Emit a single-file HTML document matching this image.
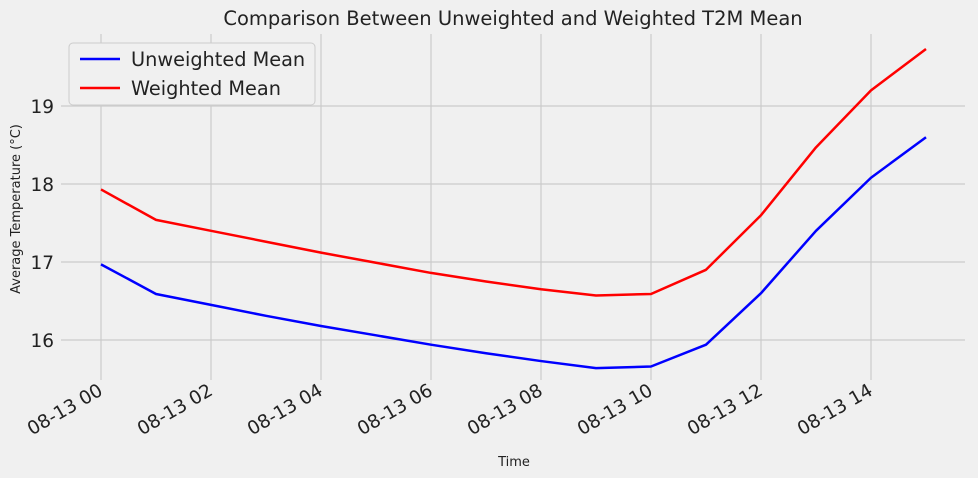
<!DOCTYPE html>
<html><head><meta charset="utf-8"><style>
body{margin:0;background:#f0f0f0;}
svg{display:block;font-family:"DejaVu Sans","Liberation Sans",sans-serif;}
</style></head><body>
<svg id="chart" width="978" height="478" viewBox="0 0 978 478">
<rect width="978" height="478" fill="#f0f0f0"/>
<g id="grid"></g>
<g id="series"></g>
<g id="ticks"></g>
<text x="513" y="25" text-anchor="middle" font-size="19.5" fill="#222">Comparison Between Unweighted and Weighted T2M Mean</text>
<text x="514" y="466" text-anchor="middle" font-size="13" fill="#222">Time</text>
<text transform="translate(20,209) rotate(-90)" text-anchor="middle" font-size="13" fill="#222">Average Temperature (°C)</text>
<g>
<rect x="69" y="43" width="246" height="62" rx="4" fill="#f0f0f0" stroke="#cccccc"/>
<line x1="80" y1="59" x2="120" y2="59" stroke="#0000ff" stroke-width="2.5"/>
<text x="131" y="66" font-size="19.3" fill="#222">Unweighted Mean</text>
<line x1="80" y1="88" x2="120" y2="88" stroke="#ff0000" stroke-width="2.5"/>
<text x="131" y="95" font-size="19.3" fill="#222">Weighted Mean</text>
</g>
</svg>
<script>
const hours=[0,1,2,3,4,5,6,7,8,9,10,11,12,13,14,15];
const unweighted=[16.97,16.59,16.45,16.31,16.18,16.06,15.94,15.83,15.73,15.64,15.66,15.94,16.60,17.40,18.08,18.60];
const weighted=[17.93,17.54,17.40,17.26,17.12,16.99,16.86,16.75,16.65,16.57,16.59,16.90,17.60,18.47,19.20,19.73];
const xTicks=[0,2,4,6,8,10,12,14];
const xTickLabels=["08-13 00","08-13 02","08-13 04","08-13 06","08-13 08","08-13 10","08-13 12","08-13 14"];
const yTicks=[16,17,18,19];
const NS="http://www.w3.org/2000/svg";
const L=61,R=965,T=34,B=380;
const x=h=>101+h*55;
const y=v=>340-(v-16)*78;
function mk(tag,attrs,parent){const e=document.createElementNS(NS,tag);for(const k in attrs)e.setAttribute(k,attrs[k]);parent.appendChild(e);return e;}
const grid=document.getElementById('grid'),ticks=document.getElementById('ticks'),series=document.getElementById('series');
xTicks.forEach((h,i)=>{
  const g=mk('line',{x1:x(h),x2:x(h),y1:T,y2:B,stroke:'#cbcbcb','stroke-width':1.2},grid);
  
  
  const t=mk('text',{transform:`translate(${x(h)+3},${B+14}) rotate(-30)`,'text-anchor':'end','font-size':18.5,fill:'#222'},ticks);
  t.textContent=xTickLabels[i];
  
  
});
yTicks.forEach(v=>{
  const g=mk('line',{x1:L,x2:R,y1:y(v),y2:y(v),stroke:'#cbcbcb','stroke-width':1.2},grid);
  
  
  const t=mk('text',{x:L-7,y:y(v)+7,'text-anchor':'end','font-size':18.5,fill:'#222'},ticks);
  t.textContent=v;
  
  
});
function line(vals,color,name){
  const p=mk('polyline',{points:hours.map((h,i)=>x(h)+','+y(vals[i])).join(' '),fill:'none',stroke:color,'stroke-width':2.5,'stroke-linejoin':'round'},series);
  
  
}
line(unweighted,'#0000ff','unweighted-line');
line(weighted,'#ff0000','weighted-line');
</script>
</body></html>
